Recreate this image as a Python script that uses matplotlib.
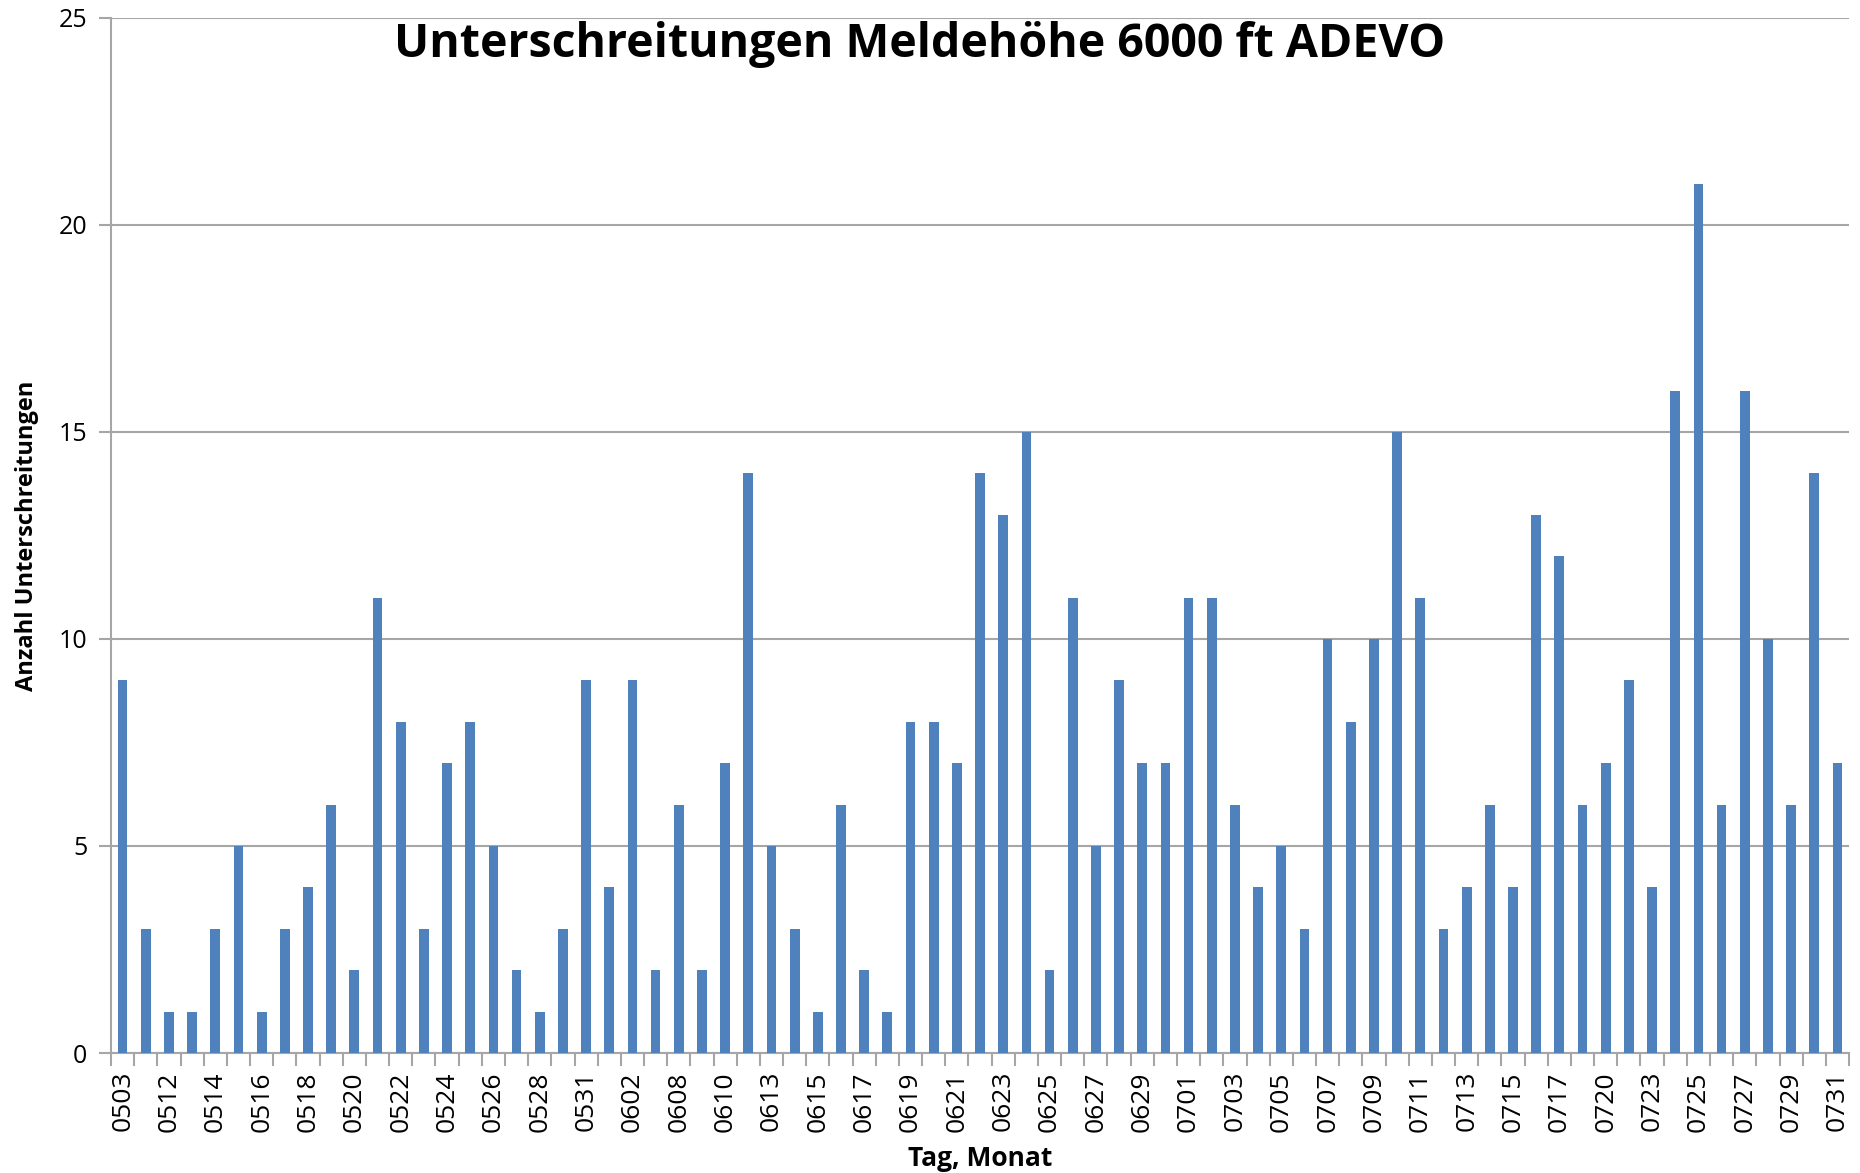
import numpy as np
import matplotlib.pyplot as plt

days = ['0503', '0511', '0512', '0513', '0514', '0515', '0516', '0517', '0518', '0519',
        '0520', '0521', '0522', '0523', '0524', '0525', '0526', '0527', '0528', '0530',
        '0531', '0601', '0602', '0607', '0608', '0609', '0610', '0611', '0613', '0614',
        '0615', '0616', '0617', '0618', '0619', '0620', '0621', '0622', '0623', '0624',
        '0625', '0626', '0627', '0628', '0629', '0630', '0701', '0702', '0703', '0704',
        '0705', '0706', '0707', '0708', '0709', '0710', '0711', '0712', '0713', '0714',
        '0715', '0716', '0717', '0719', '0720', '0722', '0723', '0724', '0725', '0726',
        '0727', '0728', '0729', '0730', '0731']
counts = [9, 3, 1, 1, 3, 5, 1, 3, 4, 6,
          2, 11, 8, 3, 7, 8, 5, 2, 1, 3,
          9, 4, 9, 2, 6, 2, 7, 14, 5, 3,
          1, 6, 2, 1, 8, 8, 7, 14, 13, 15,
          2, 11, 5, 9, 7, 7, 11, 11, 6, 4,
          5, 3, 10, 8, 10, 15, 11, 3, 4, 6,
          4, 13, 12, 6, 7, 9, 4, 16, 21, 6,
          16, 10, 6, 14, 7]

plt.rcParams['font.family'] = ['Open Sans', 'DejaVu Sans']
grey = '#a6a6a6'

fig = plt.figure(figsize=(18.6, 11.73), dpi=100)
ax = fig.add_axes([0.0597, 0.1023, 0.9344, 0.8824])

x = np.arange(len(days))
ax.bar(x, counts, width=0.42, color='#4f81bd', zorder=3)

ax.set_xlim(-0.5, len(days) - 0.5)
ax.set_ylim(0, 25)
ax.set_yticks(range(0, 26, 5))
ax.yaxis.grid(True, color=grey, linewidth=1.5, zorder=0)

ax.set_xticks(x[::2])
ax.set_xticklabels(days[::2], rotation=90, fontsize=19)
ax.set_xticks(np.arange(-0.5, len(days), 1), minor=True)
ax.tick_params(axis='x', which='major', length=0, pad=13)
ax.tick_params(axis='x', which='minor', length=9, width=1.5, color=grey)
ax.tick_params(axis='y', length=9, width=1.5, color=grey, labelsize=18, pad=8)

for s in ['top', 'right']:
    ax.spines[s].set_visible(False)
for s in ['left', 'bottom']:
    ax.spines[s].set_color(grey)
    ax.spines[s].set_linewidth(1.5)

ax.set_xlabel('Tag, Monat', fontsize=19, fontweight='bold', labelpad=10)
ax.set_ylabel('Anzahl Unterschreitungen', fontsize=17, fontweight='bold', labelpad=14)
ax.text(0.465, 0.997, 'Unterschreitungen Meldehöhe 6000 ft ADEVO', transform=ax.transAxes,
        ha='center', va='top', fontsize=33.5, fontweight='bold')

fig.savefig('out.png', dpi=100)
